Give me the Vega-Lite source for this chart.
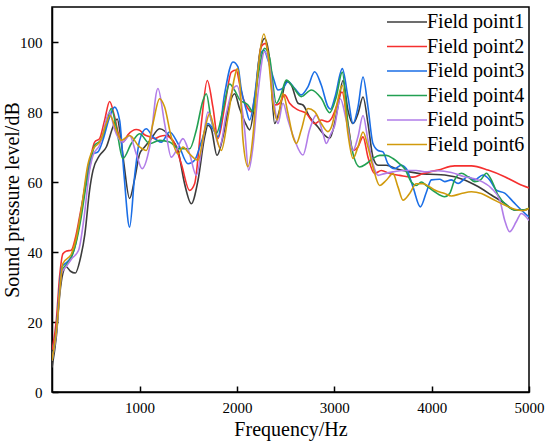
{
  "$schema": "https://vega.github.io/schema/vega-lite/v6.json",
  "width": 477,
  "height": 385,
  "autosize": {"type": "none"},
  "padding": {"left": 52, "top": 7, "right": 21, "bottom": 50},
  "background": "white",
  "config": {
    "font": "Liberation Serif",
    "view": {"stroke": "black", "strokeWidth": 1.5},
    "axis": {
      "grid": false,
      "domainColor": "black",
      "domainWidth": 1.5,
      "tickColor": "black",
      "tickWidth": 1.5,
      "tickSize": -6,
      "labelFlush": false,
      "labelFont": "Liberation Serif",
      "labelFontSize": 15,
      "labelColor": "black",
      "titleFont": "Liberation Serif",
      "titleFontSize": 20,
      "titleFontWeight": "normal",
      "titleColor": "black"
    },
    "legend": {"labelFont": "Liberation Serif"}
  },
  "datasets": {
    "spl": [
      {"s": "Field point1", "f": 100, "v": 7},
      {"s": "Field point1", "f": 145, "v": 16},
      {"s": "Field point1", "f": 180, "v": 28},
      {"s": "Field point1", "f": 212, "v": 34},
      {"s": "Field point1", "f": 245, "v": 35.8},
      {"s": "Field point1", "f": 290, "v": 34.5},
      {"s": "Field point1", "f": 340, "v": 34},
      {"s": "Field point1", "f": 390, "v": 38},
      {"s": "Field point1", "f": 438, "v": 45.2},
      {"s": "Field point1", "f": 486, "v": 57.6},
      {"s": "Field point1", "f": 521, "v": 63.3},
      {"s": "Field point1", "f": 589, "v": 67.6},
      {"s": "Field point1", "f": 658, "v": 70},
      {"s": "Field point1", "f": 726, "v": 75.7},
      {"s": "Field point1", "f": 770, "v": 78},
      {"s": "Field point1", "f": 800, "v": 74},
      {"s": "Field point1", "f": 840, "v": 65},
      {"s": "Field point1", "f": 897, "v": 55.3},
      {"s": "Field point1", "f": 950, "v": 61},
      {"s": "Field point1", "f": 1000, "v": 68},
      {"s": "Field point1", "f": 1051, "v": 70},
      {"s": "Field point1", "f": 1110, "v": 72},
      {"s": "Field point1", "f": 1205, "v": 75.2},
      {"s": "Field point1", "f": 1260, "v": 74.5},
      {"s": "Field point1", "f": 1308, "v": 72.9},
      {"s": "Field point1", "f": 1394, "v": 69},
      {"s": "Field point1", "f": 1462, "v": 59.5},
      {"s": "Field point1", "f": 1531, "v": 53.8},
      {"s": "Field point1", "f": 1600, "v": 60.5},
      {"s": "Field point1", "f": 1668, "v": 72.9},
      {"s": "Field point1", "f": 1702, "v": 76.2},
      {"s": "Field point1", "f": 1736, "v": 75.2},
      {"s": "Field point1", "f": 1795, "v": 67.6},
      {"s": "Field point1", "f": 1856, "v": 72.9},
      {"s": "Field point1", "f": 1925, "v": 82.4},
      {"s": "Field point1", "f": 1976, "v": 85.2},
      {"s": "Field point1", "f": 2027, "v": 81},
      {"s": "Field point1", "f": 2096, "v": 76.3},
      {"s": "Field point1", "f": 2130, "v": 74.9},
      {"s": "Field point1", "f": 2181, "v": 82.5},
      {"s": "Field point1", "f": 2233, "v": 96.7},
      {"s": "Field point1", "f": 2284, "v": 101},
      {"s": "Field point1", "f": 2336, "v": 94.9},
      {"s": "Field point1", "f": 2387, "v": 76.7},
      {"s": "Field point1", "f": 2438, "v": 80.6},
      {"s": "Field point1", "f": 2507, "v": 88.7},
      {"s": "Field point1", "f": 2558, "v": 87.7},
      {"s": "Field point1", "f": 2627, "v": 82.5},
      {"s": "Field point1", "f": 2678, "v": 82},
      {"s": "Field point1", "f": 2746, "v": 78.6},
      {"s": "Field point1", "f": 2832, "v": 75.7},
      {"s": "Field point1", "f": 2900, "v": 73.4},
      {"s": "Field point1", "f": 2952, "v": 72.5},
      {"s": "Field point1", "f": 3003, "v": 76.7},
      {"s": "Field point1", "f": 3040, "v": 82},
      {"s": "Field point1", "f": 3089, "v": 89},
      {"s": "Field point1", "f": 3140, "v": 80.5},
      {"s": "Field point1", "f": 3192, "v": 76.7},
      {"s": "Field point1", "f": 3243, "v": 79.5},
      {"s": "Field point1", "f": 3295, "v": 84.3},
      {"s": "Field point1", "f": 3346, "v": 76.7},
      {"s": "Field point1", "f": 3397, "v": 67.1},
      {"s": "Field point1", "f": 3449, "v": 64.8},
      {"s": "Field point1", "f": 3534, "v": 64.8},
      {"s": "Field point1", "f": 3637, "v": 63.8},
      {"s": "Field point1", "f": 3774, "v": 62.9},
      {"s": "Field point1", "f": 3877, "v": 62.4},
      {"s": "Field point1", "f": 3980, "v": 62.2},
      {"s": "Field point1", "f": 4134, "v": 62},
      {"s": "Field point1", "f": 4339, "v": 60.6},
      {"s": "Field point1", "f": 4476, "v": 58.7},
      {"s": "Field point1", "f": 4613, "v": 56.3},
      {"s": "Field point1", "f": 4750, "v": 53.9},
      {"s": "Field point1", "f": 4853, "v": 52},
      {"s": "Field point1", "f": 4956, "v": 52},
      {"s": "Field point1", "f": 5000, "v": 52.5},

      {"s": "Field point2", "f": 100, "v": 12},
      {"s": "Field point2", "f": 145, "v": 20.6},
      {"s": "Field point2", "f": 178, "v": 33},
      {"s": "Field point2", "f": 212, "v": 39.5},
      {"s": "Field point2", "f": 250, "v": 40.3},
      {"s": "Field point2", "f": 297, "v": 40.5},
      {"s": "Field point2", "f": 340, "v": 44},
      {"s": "Field point2", "f": 383, "v": 50},
      {"s": "Field point2", "f": 430, "v": 57},
      {"s": "Field point2", "f": 469, "v": 63.3},
      {"s": "Field point2", "f": 500, "v": 67.5},
      {"s": "Field point2", "f": 538, "v": 71.4},
      {"s": "Field point2", "f": 589, "v": 72.4},
      {"s": "Field point2", "f": 640, "v": 77.6},
      {"s": "Field point2", "f": 692, "v": 83},
      {"s": "Field point2", "f": 740, "v": 79},
      {"s": "Field point2", "f": 790, "v": 73},
      {"s": "Field point2", "f": 828, "v": 71.4},
      {"s": "Field point2", "f": 880, "v": 73.5},
      {"s": "Field point2", "f": 966, "v": 75},
      {"s": "Field point2", "f": 1000, "v": 74.8},
      {"s": "Field point2", "f": 1050, "v": 73.5},
      {"s": "Field point2", "f": 1103, "v": 72.9},
      {"s": "Field point2", "f": 1154, "v": 72.4},
      {"s": "Field point2", "f": 1205, "v": 73},
      {"s": "Field point2", "f": 1257, "v": 73.3},
      {"s": "Field point2", "f": 1342, "v": 71.9},
      {"s": "Field point2", "f": 1428, "v": 65.2},
      {"s": "Field point2", "f": 1514, "v": 57.6},
      {"s": "Field point2", "f": 1565, "v": 59.5},
      {"s": "Field point2", "f": 1634, "v": 76.7},
      {"s": "Field point2", "f": 1695, "v": 89},
      {"s": "Field point2", "f": 1753, "v": 81.4},
      {"s": "Field point2", "f": 1805, "v": 72.4},
      {"s": "Field point2", "f": 1873, "v": 81.4},
      {"s": "Field point2", "f": 1942, "v": 91.4},
      {"s": "Field point2", "f": 1993, "v": 92},
      {"s": "Field point2", "f": 2027, "v": 88},
      {"s": "Field point2", "f": 2062, "v": 84},
      {"s": "Field point2", "f": 2113, "v": 81},
      {"s": "Field point2", "f": 2147, "v": 80},
      {"s": "Field point2", "f": 2198, "v": 87.2},
      {"s": "Field point2", "f": 2250, "v": 98.7},
      {"s": "Field point2", "f": 2291, "v": 99.6},
      {"s": "Field point2", "f": 2336, "v": 93.9},
      {"s": "Field point2", "f": 2387, "v": 82},
      {"s": "Field point2", "f": 2438, "v": 82.5},
      {"s": "Field point2", "f": 2490, "v": 84.9},
      {"s": "Field point2", "f": 2541, "v": 82.5},
      {"s": "Field point2", "f": 2627, "v": 80.6},
      {"s": "Field point2", "f": 2712, "v": 79.6},
      {"s": "Field point2", "f": 2798, "v": 76.7},
      {"s": "Field point2", "f": 2866, "v": 77.7},
      {"s": "Field point2", "f": 2935, "v": 77.2},
      {"s": "Field point2", "f": 2970, "v": 78.1},
      {"s": "Field point2", "f": 3020, "v": 81.4},
      {"s": "Field point2", "f": 3079, "v": 85.7},
      {"s": "Field point2", "f": 3140, "v": 76.7},
      {"s": "Field point2", "f": 3192, "v": 69},
      {"s": "Field point2", "f": 3243, "v": 70},
      {"s": "Field point2", "f": 3295, "v": 72.9},
      {"s": "Field point2", "f": 3346, "v": 67.1},
      {"s": "Field point2", "f": 3414, "v": 62.4},
      {"s": "Field point2", "f": 3483, "v": 63.3},
      {"s": "Field point2", "f": 3569, "v": 62.4},
      {"s": "Field point2", "f": 3671, "v": 61.9},
      {"s": "Field point2", "f": 3808, "v": 61.4},
      {"s": "Field point2", "f": 3911, "v": 62.4},
      {"s": "Field point2", "f": 3980, "v": 62.9},
      {"s": "Field point2", "f": 4065, "v": 63.4},
      {"s": "Field point2", "f": 4236, "v": 64.6},
      {"s": "Field point2", "f": 4408, "v": 64.6},
      {"s": "Field point2", "f": 4579, "v": 63.4},
      {"s": "Field point2", "f": 4750, "v": 61.5},
      {"s": "Field point2", "f": 4887, "v": 59.6},
      {"s": "Field point2", "f": 5000, "v": 58.3},

      {"s": "Field point3", "f": 100, "v": 9},
      {"s": "Field point3", "f": 145, "v": 18},
      {"s": "Field point3", "f": 200, "v": 35.7},
      {"s": "Field point3", "f": 250, "v": 37},
      {"s": "Field point3", "f": 297, "v": 38.6},
      {"s": "Field point3", "f": 340, "v": 42},
      {"s": "Field point3", "f": 390, "v": 50},
      {"s": "Field point3", "f": 440, "v": 59},
      {"s": "Field point3", "f": 486, "v": 66},
      {"s": "Field point3", "f": 521, "v": 68},
      {"s": "Field point3", "f": 572, "v": 68.6},
      {"s": "Field point3", "f": 623, "v": 72},
      {"s": "Field point3", "f": 692, "v": 78.6},
      {"s": "Field point3", "f": 743, "v": 81.4},
      {"s": "Field point3", "f": 795, "v": 77.6},
      {"s": "Field point3", "f": 840, "v": 62},
      {"s": "Field point3", "f": 897, "v": 47.1},
      {"s": "Field point3", "f": 950, "v": 62},
      {"s": "Field point3", "f": 1000, "v": 71.9},
      {"s": "Field point3", "f": 1068, "v": 75.2},
      {"s": "Field point3", "f": 1137, "v": 72.9},
      {"s": "Field point3", "f": 1223, "v": 71.4},
      {"s": "Field point3", "f": 1308, "v": 74.3},
      {"s": "Field point3", "f": 1394, "v": 71},
      {"s": "Field point3", "f": 1497, "v": 65.2},
      {"s": "Field point3", "f": 1565, "v": 66.2},
      {"s": "Field point3", "f": 1634, "v": 71.4},
      {"s": "Field point3", "f": 1702, "v": 76.7},
      {"s": "Field point3", "f": 1753, "v": 75.2},
      {"s": "Field point3", "f": 1805, "v": 72.9},
      {"s": "Field point3", "f": 1873, "v": 85.2},
      {"s": "Field point3", "f": 1959, "v": 94.3},
      {"s": "Field point3", "f": 2010, "v": 92.9},
      {"s": "Field point3", "f": 2045, "v": 86.3},
      {"s": "Field point3", "f": 2096, "v": 80.6},
      {"s": "Field point3", "f": 2130, "v": 77.7},
      {"s": "Field point3", "f": 2181, "v": 84.4},
      {"s": "Field point3", "f": 2233, "v": 95.8},
      {"s": "Field point3", "f": 2277, "v": 97.7},
      {"s": "Field point3", "f": 2318, "v": 94.9},
      {"s": "Field point3", "f": 2370, "v": 90.1},
      {"s": "Field point3", "f": 2421, "v": 86.3},
      {"s": "Field point3", "f": 2473, "v": 86.8},
      {"s": "Field point3", "f": 2524, "v": 88.7},
      {"s": "Field point3", "f": 2592, "v": 86.8},
      {"s": "Field point3", "f": 2661, "v": 84.9},
      {"s": "Field point3", "f": 2729, "v": 87.2},
      {"s": "Field point3", "f": 2798, "v": 91.5},
      {"s": "Field point3", "f": 2866, "v": 87.7},
      {"s": "Field point3", "f": 2935, "v": 81.5},
      {"s": "Field point3", "f": 2960, "v": 80.8},
      {"s": "Field point3", "f": 3010, "v": 84.6},
      {"s": "Field point3", "f": 3082, "v": 92.4},
      {"s": "Field point3", "f": 3140, "v": 84.3},
      {"s": "Field point3", "f": 3192, "v": 76.7},
      {"s": "Field point3", "f": 3243, "v": 81.4},
      {"s": "Field point3", "f": 3295, "v": 90},
      {"s": "Field point3", "f": 3346, "v": 81.4},
      {"s": "Field point3", "f": 3397, "v": 71},
      {"s": "Field point3", "f": 3449, "v": 69},
      {"s": "Field point3", "f": 3500, "v": 68.6},
      {"s": "Field point3", "f": 3551, "v": 65.2},
      {"s": "Field point3", "f": 3620, "v": 63.8},
      {"s": "Field point3", "f": 3688, "v": 64.8},
      {"s": "Field point3", "f": 3740, "v": 63.8},
      {"s": "Field point3", "f": 3808, "v": 58.6},
      {"s": "Field point3", "f": 3884, "v": 52.9},
      {"s": "Field point3", "f": 3945, "v": 57},
      {"s": "Field point3", "f": 3997, "v": 60.6},
      {"s": "Field point3", "f": 4082, "v": 60.8},
      {"s": "Field point3", "f": 4134, "v": 60.1},
      {"s": "Field point3", "f": 4202, "v": 60.6},
      {"s": "Field point3", "f": 4271, "v": 59.6},
      {"s": "Field point3", "f": 4373, "v": 61.5},
      {"s": "Field point3", "f": 4442, "v": 60.6},
      {"s": "Field point3", "f": 4527, "v": 62},
      {"s": "Field point3", "f": 4596, "v": 60.6},
      {"s": "Field point3", "f": 4664, "v": 57.7},
      {"s": "Field point3", "f": 4750, "v": 56.8},
      {"s": "Field point3", "f": 4836, "v": 54.4},
      {"s": "Field point3", "f": 4921, "v": 52},
      {"s": "Field point3", "f": 5000, "v": 50},

      {"s": "Field point4", "f": 100, "v": 9},
      {"s": "Field point4", "f": 145, "v": 17},
      {"s": "Field point4", "f": 200, "v": 34.5},
      {"s": "Field point4", "f": 250, "v": 36.5},
      {"s": "Field point4", "f": 300, "v": 38.5},
      {"s": "Field point4", "f": 350, "v": 43},
      {"s": "Field point4", "f": 400, "v": 50},
      {"s": "Field point4", "f": 450, "v": 59},
      {"s": "Field point4", "f": 500, "v": 66},
      {"s": "Field point4", "f": 538, "v": 70.5},
      {"s": "Field point4", "f": 606, "v": 72},
      {"s": "Field point4", "f": 658, "v": 76.7},
      {"s": "Field point4", "f": 709, "v": 81},
      {"s": "Field point4", "f": 760, "v": 75.7},
      {"s": "Field point4", "f": 828, "v": 66.7},
      {"s": "Field point4", "f": 915, "v": 71},
      {"s": "Field point4", "f": 1000, "v": 73.8},
      {"s": "Field point4", "f": 1103, "v": 71},
      {"s": "Field point4", "f": 1205, "v": 71.9},
      {"s": "Field point4", "f": 1308, "v": 71.4},
      {"s": "Field point4", "f": 1411, "v": 69.5},
      {"s": "Field point4", "f": 1514, "v": 69.5},
      {"s": "Field point4", "f": 1582, "v": 74.8},
      {"s": "Field point4", "f": 1651, "v": 83.3},
      {"s": "Field point4", "f": 1685, "v": 85.2},
      {"s": "Field point4", "f": 1736, "v": 77.6},
      {"s": "Field point4", "f": 1788, "v": 73.8},
      {"s": "Field point4", "f": 1856, "v": 80.5},
      {"s": "Field point4", "f": 1925, "v": 88},
      {"s": "Field point4", "f": 1976, "v": 86.2},
      {"s": "Field point4", "f": 2027, "v": 83.6},
      {"s": "Field point4", "f": 2113, "v": 82},
      {"s": "Field point4", "f": 2164, "v": 80.1},
      {"s": "Field point4", "f": 2216, "v": 90.1},
      {"s": "Field point4", "f": 2284, "v": 98.2},
      {"s": "Field point4", "f": 2336, "v": 95.4},
      {"s": "Field point4", "f": 2404, "v": 82.5},
      {"s": "Field point4", "f": 2456, "v": 85.3},
      {"s": "Field point4", "f": 2507, "v": 89.1},
      {"s": "Field point4", "f": 2575, "v": 87.2},
      {"s": "Field point4", "f": 2661, "v": 84.4},
      {"s": "Field point4", "f": 2764, "v": 86.3},
      {"s": "Field point4", "f": 2866, "v": 83.9},
      {"s": "Field point4", "f": 2952, "v": 79.8},
      {"s": "Field point4", "f": 3020, "v": 84.3},
      {"s": "Field point4", "f": 3082, "v": 91.4},
      {"s": "Field point4", "f": 3140, "v": 76.7},
      {"s": "Field point4", "f": 3192, "v": 68.1},
      {"s": "Field point4", "f": 3260, "v": 64.3},
      {"s": "Field point4", "f": 3329, "v": 65.2},
      {"s": "Field point4", "f": 3397, "v": 66.7},
      {"s": "Field point4", "f": 3466, "v": 67.6},
      {"s": "Field point4", "f": 3534, "v": 67.6},
      {"s": "Field point4", "f": 3603, "v": 66.7},
      {"s": "Field point4", "f": 3671, "v": 65.2},
      {"s": "Field point4", "f": 3723, "v": 63.8},
      {"s": "Field point4", "f": 3791, "v": 60},
      {"s": "Field point4", "f": 3842, "v": 59},
      {"s": "Field point4", "f": 3894, "v": 60},
      {"s": "Field point4", "f": 3945, "v": 59},
      {"s": "Field point4", "f": 4031, "v": 57.2},
      {"s": "Field point4", "f": 4134, "v": 55.8},
      {"s": "Field point4", "f": 4185, "v": 56.7},
      {"s": "Field point4", "f": 4236, "v": 60.6},
      {"s": "Field point4", "f": 4305, "v": 62.5},
      {"s": "Field point4", "f": 4373, "v": 61.5},
      {"s": "Field point4", "f": 4442, "v": 60.1},
      {"s": "Field point4", "f": 4503, "v": 60.6},
      {"s": "Field point4", "f": 4562, "v": 62.5},
      {"s": "Field point4", "f": 4613, "v": 60.6},
      {"s": "Field point4", "f": 4681, "v": 56.3},
      {"s": "Field point4", "f": 4767, "v": 53.4},
      {"s": "Field point4", "f": 4853, "v": 52},
      {"s": "Field point4", "f": 4938, "v": 52},
      {"s": "Field point4", "f": 5000, "v": 52.5},

      {"s": "Field point5", "f": 100, "v": 9},
      {"s": "Field point5", "f": 145, "v": 17},
      {"s": "Field point5", "f": 200, "v": 34},
      {"s": "Field point5", "f": 250, "v": 36},
      {"s": "Field point5", "f": 300, "v": 38},
      {"s": "Field point5", "f": 373, "v": 40.5},
      {"s": "Field point5", "f": 430, "v": 50},
      {"s": "Field point5", "f": 486, "v": 63.3},
      {"s": "Field point5", "f": 521, "v": 67.6},
      {"s": "Field point5", "f": 589, "v": 70.5},
      {"s": "Field point5", "f": 692, "v": 80},
      {"s": "Field point5", "f": 740, "v": 75.2},
      {"s": "Field point5", "f": 828, "v": 71.4},
      {"s": "Field point5", "f": 897, "v": 73.3},
      {"s": "Field point5", "f": 966, "v": 68},
      {"s": "Field point5", "f": 1025, "v": 63.8},
      {"s": "Field point5", "f": 1103, "v": 70},
      {"s": "Field point5", "f": 1188, "v": 86.7},
      {"s": "Field point5", "f": 1257, "v": 76.7},
      {"s": "Field point5", "f": 1325, "v": 67.1},
      {"s": "Field point5", "f": 1377, "v": 69},
      {"s": "Field point5", "f": 1445, "v": 72.4},
      {"s": "Field point5", "f": 1514, "v": 68},
      {"s": "Field point5", "f": 1582, "v": 61.9},
      {"s": "Field point5", "f": 1651, "v": 71.9},
      {"s": "Field point5", "f": 1702, "v": 80},
      {"s": "Field point5", "f": 1753, "v": 76.2},
      {"s": "Field point5", "f": 1822, "v": 70},
      {"s": "Field point5", "f": 1890, "v": 79.5},
      {"s": "Field point5", "f": 1959, "v": 86.5},
      {"s": "Field point5", "f": 2000, "v": 87.5},
      {"s": "Field point5", "f": 2045, "v": 82.5},
      {"s": "Field point5", "f": 2079, "v": 74.9},
      {"s": "Field point5", "f": 2120, "v": 63.4},
      {"s": "Field point5", "f": 2164, "v": 70},
      {"s": "Field point5", "f": 2216, "v": 85.3},
      {"s": "Field point5", "f": 2284, "v": 97.2},
      {"s": "Field point5", "f": 2336, "v": 93},
      {"s": "Field point5", "f": 2387, "v": 81.5},
      {"s": "Field point5", "f": 2421, "v": 76.7},
      {"s": "Field point5", "f": 2473, "v": 82.5},
      {"s": "Field point5", "f": 2524, "v": 77.7},
      {"s": "Field point5", "f": 2592, "v": 72},
      {"s": "Field point5", "f": 2678, "v": 67.7},
      {"s": "Field point5", "f": 2746, "v": 74.9},
      {"s": "Field point5", "f": 2815, "v": 79.1},
      {"s": "Field point5", "f": 2883, "v": 73.9},
      {"s": "Field point5", "f": 2918, "v": 71},
      {"s": "Field point5", "f": 2960, "v": 73.5},
      {"s": "Field point5", "f": 3003, "v": 76},
      {"s": "Field point5", "f": 3062, "v": 83.8},
      {"s": "Field point5", "f": 3123, "v": 77.6},
      {"s": "Field point5", "f": 3192, "v": 69},
      {"s": "Field point5", "f": 3243, "v": 72.9},
      {"s": "Field point5", "f": 3295, "v": 79},
      {"s": "Field point5", "f": 3346, "v": 71.9},
      {"s": "Field point5", "f": 3397, "v": 65.2},
      {"s": "Field point5", "f": 3449, "v": 61.9},
      {"s": "Field point5", "f": 3517, "v": 62.4},
      {"s": "Field point5", "f": 3603, "v": 62.9},
      {"s": "Field point5", "f": 3706, "v": 63.3},
      {"s": "Field point5", "f": 3842, "v": 63.3},
      {"s": "Field point5", "f": 3928, "v": 62.9},
      {"s": "Field point5", "f": 4065, "v": 63.2},
      {"s": "Field point5", "f": 4202, "v": 62.7},
      {"s": "Field point5", "f": 4339, "v": 61.5},
      {"s": "Field point5", "f": 4476, "v": 60.6},
      {"s": "Field point5", "f": 4613, "v": 58.2},
      {"s": "Field point5", "f": 4699, "v": 54.9},
      {"s": "Field point5", "f": 4750, "v": 49.1},
      {"s": "Field point5", "f": 4801, "v": 45.8},
      {"s": "Field point5", "f": 4870, "v": 48.7},
      {"s": "Field point5", "f": 4921, "v": 51},
      {"s": "Field point5", "f": 5000, "v": 49},

      {"s": "Field point6", "f": 100, "v": 9},
      {"s": "Field point6", "f": 145, "v": 17.5},
      {"s": "Field point6", "f": 212, "v": 36.7},
      {"s": "Field point6", "f": 300, "v": 39.5},
      {"s": "Field point6", "f": 350, "v": 44},
      {"s": "Field point6", "f": 400, "v": 52},
      {"s": "Field point6", "f": 469, "v": 65},
      {"s": "Field point6", "f": 500, "v": 68},
      {"s": "Field point6", "f": 538, "v": 70},
      {"s": "Field point6", "f": 589, "v": 71.4},
      {"s": "Field point6", "f": 658, "v": 76.7},
      {"s": "Field point6", "f": 695, "v": 79},
      {"s": "Field point6", "f": 760, "v": 74.8},
      {"s": "Field point6", "f": 812, "v": 71.9},
      {"s": "Field point6", "f": 897, "v": 73.3},
      {"s": "Field point6", "f": 1000, "v": 70},
      {"s": "Field point6", "f": 1068, "v": 69},
      {"s": "Field point6", "f": 1137, "v": 76.7},
      {"s": "Field point6", "f": 1205, "v": 83.8},
      {"s": "Field point6", "f": 1257, "v": 81.4},
      {"s": "Field point6", "f": 1325, "v": 72.9},
      {"s": "Field point6", "f": 1394, "v": 68},
      {"s": "Field point6", "f": 1445, "v": 70},
      {"s": "Field point6", "f": 1514, "v": 68},
      {"s": "Field point6", "f": 1600, "v": 66.2},
      {"s": "Field point6", "f": 1668, "v": 74.8},
      {"s": "Field point6", "f": 1719, "v": 79.5},
      {"s": "Field point6", "f": 1770, "v": 74.8},
      {"s": "Field point6", "f": 1839, "v": 69},
      {"s": "Field point6", "f": 1908, "v": 78.6},
      {"s": "Field point6", "f": 1976, "v": 90},
      {"s": "Field point6", "f": 2003, "v": 92.4},
      {"s": "Field point6", "f": 2030, "v": 88},
      {"s": "Field point6", "f": 2062, "v": 72},
      {"s": "Field point6", "f": 2113, "v": 64.4},
      {"s": "Field point6", "f": 2164, "v": 73},
      {"s": "Field point6", "f": 2216, "v": 92},
      {"s": "Field point6", "f": 2277, "v": 102.3},
      {"s": "Field point6", "f": 2318, "v": 96.7},
      {"s": "Field point6", "f": 2370, "v": 82.5},
      {"s": "Field point6", "f": 2414, "v": 77.7},
      {"s": "Field point6", "f": 2473, "v": 85.3},
      {"s": "Field point6", "f": 2524, "v": 79.6},
      {"s": "Field point6", "f": 2575, "v": 73},
      {"s": "Field point6", "f": 2610, "v": 71},
      {"s": "Field point6", "f": 2661, "v": 74.9},
      {"s": "Field point6", "f": 2729, "v": 81},
      {"s": "Field point6", "f": 2798, "v": 80.1},
      {"s": "Field point6", "f": 2866, "v": 76.7},
      {"s": "Field point6", "f": 2935, "v": 74.4},
      {"s": "Field point6", "f": 2970, "v": 75.7},
      {"s": "Field point6", "f": 3020, "v": 81.4},
      {"s": "Field point6", "f": 3082, "v": 87.6},
      {"s": "Field point6", "f": 3140, "v": 73.8},
      {"s": "Field point6", "f": 3192, "v": 66.7},
      {"s": "Field point6", "f": 3243, "v": 70},
      {"s": "Field point6", "f": 3295, "v": 74.3},
      {"s": "Field point6", "f": 3346, "v": 70},
      {"s": "Field point6", "f": 3397, "v": 64.3},
      {"s": "Field point6", "f": 3466, "v": 59},
      {"s": "Field point6", "f": 3534, "v": 60.5},
      {"s": "Field point6", "f": 3603, "v": 62.4},
      {"s": "Field point6", "f": 3654, "v": 58.6},
      {"s": "Field point6", "f": 3706, "v": 54.8},
      {"s": "Field point6", "f": 3774, "v": 56.7},
      {"s": "Field point6", "f": 3842, "v": 59.5},
      {"s": "Field point6", "f": 3911, "v": 59.5},
      {"s": "Field point6", "f": 3980, "v": 58.6},
      {"s": "Field point6", "f": 4031, "v": 57.7},
      {"s": "Field point6", "f": 4134, "v": 56.7},
      {"s": "Field point6", "f": 4202, "v": 56},
      {"s": "Field point6", "f": 4305, "v": 56.7},
      {"s": "Field point6", "f": 4408, "v": 57.2},
      {"s": "Field point6", "f": 4511, "v": 56.7},
      {"s": "Field point6", "f": 4613, "v": 55.3},
      {"s": "Field point6", "f": 4750, "v": 53.4},
      {"s": "Field point6", "f": 4853, "v": 52.2},
      {"s": "Field point6", "f": 4938, "v": 51.8},
      {"s": "Field point6", "f": 5000, "v": 52.5}
    ]
  },
  "data": {"name": "spl"},
  "mark": {"type": "line", "interpolate": "monotone", "strokeWidth": 1.6, "clip": true},
  "encoding": {
    "x": {
      "field": "f",
      "type": "quantitative",
      "title": "Frequency/Hz",
      "scale": {"domain": [100, 5000], "nice": false, "zero": false},
      "axis": {
        "values": [1000, 2000, 3000, 4000, 5000],
        "format": "d",
        "labelFlush": false,
        "labelFont": "Liberation Serif",
        "titleFont": "Liberation Serif",
        "labelPadding": 14,
        "titlePadding": 4
      }
    },
    "y": {
      "field": "v",
      "type": "quantitative",
      "title": "Sound pressure level/dB",
      "scale": {"domain": [0, 110], "nice": false},
      "axis": {
        "values": [0, 20, 40, 60, 80, 100],
        "format": "d",
        "labelFlush": false,
        "labelFont": "Liberation Serif",
        "titleFont": "Liberation Serif",
        "labelPadding": 16,
        "titlePadding": -3
      }
    },
    "color": {
      "field": "s",
      "type": "nominal",
      "title": null,
      "scale": {
        "domain": ["Field point1", "Field point2", "Field point3", "Field point4", "Field point5", "Field point6"],
        "range": ["#3c3c3c", "#f5302f", "#1a6ee6", "#22a052", "#b17de8", "#d19a0c"]
      },
      "legend": {
        "orient": "none",
        "legendX": 354,
        "legendY": 4,
        "padding": 0,
        "symbolType": "M-3,0H1",
        "symbolSize": 400,
        "symbolStrokeWidth": 1.6,
        "labelFont": "Liberation Serif",
        "labelFontSize": 20,
        "labelColor": "black",
        "labelOffset": -1,
        "rowPadding": 3.5
      }
    },
    "order": {"field": "f", "type": "quantitative"}
  }
}
